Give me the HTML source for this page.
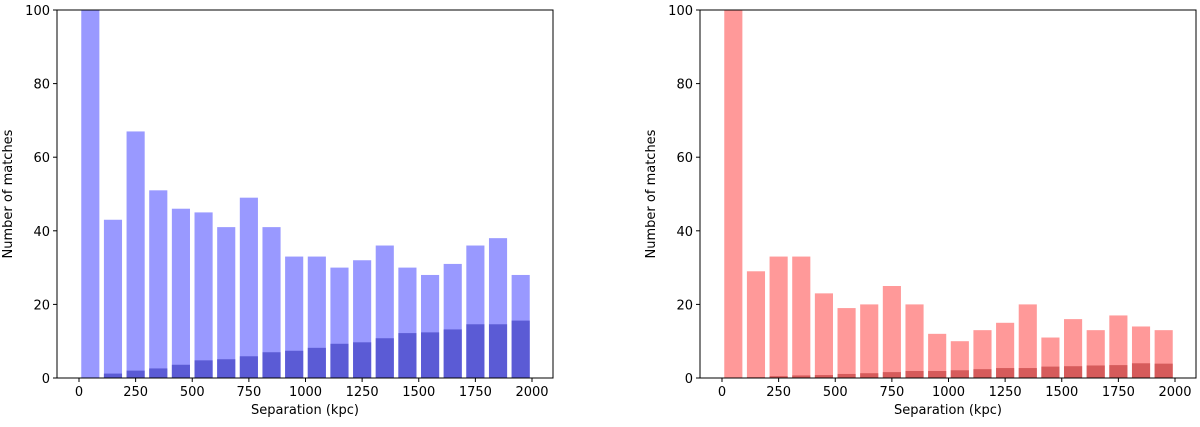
<!DOCTYPE html>
<html><head><meta charset="utf-8"><style>
body{margin:0;background:#fff;font-family:"DejaVu Sans","Liberation Sans",sans-serif}
</style></head><body>
<svg id="s" width="1200" height="423" xmlns="http://www.w3.org/2000/svg"></svg>
<script>
const centers=[50,150,250,350,450,550,650,750,850,950,1050,1150,1250,1350,1450,1550,1650,1750,1850,1950];
const leftTotal=[110,43,67,51,46,45,41,49,41,33,33,30,32,36,30,28,31,36,38,28];
const leftSub=[0,1.2,2,2.6,3.6,4.8,5.1,5.9,7,7.4,8.2,9.3,9.7,10.8,12.2,12.4,13.2,14.6,14.6,15.6];
const rightTotal=[110,29,33,33,23,19,20,25,20,12,10,13,15,20,11,16,13,17,14,13];
const rightSub=[0,0.2,0.5,0.7,0.8,1.1,1.3,1.6,1.9,1.9,2.1,2.4,2.7,2.7,3.1,3.2,3.4,3.5,4,3.9];
const xTicks=[0,250,500,750,1000,1250,1500,1750,2000];
const yTicks=[0,20,40,60,80,100];
const NS="http://www.w3.org/2000/svg";
const svg=document.getElementById('s');
function mk(tag,attrs,parent){const e=document.createElementNS(NS,tag);for(const k in attrs)e.setAttribute(k,attrs[k]);(parent||svg).appendChild(e);return e;}
function panel(off,tot,sub,light,dark,name){
  const g=mk('g',{});
  
  
  const X0=57+off,X1=553+off,Y0=10,Y1=378;
  const x=v=>79+off+v*(453/2000);
  const y=v=>Y1-(Math.min(v,100))*(Y1-Y0)/100;
  const cp=mk('clipPath',{id:'c'+off},g);mk('rect',{x:X0,y:Y0,width:X1-X0,height:Y1-Y0},cp);
  const bars=mk('g',{'clip-path':'url(#c'+off+')'},g);
  centers.forEach((c,i)=>{
    const r=mk('rect',{x:x(c-40),y:y(tot[i]),width:x(c+40)-x(c-40),height:y(0)-y(tot[i]),fill:light},bars);
    
    
    if(sub[i]>0){const d=mk('rect',{x:x(c-40),y:y(sub[i]),width:x(c+40)-x(c-40),height:y(0)-y(sub[i]),fill:dark},bars);
    
    }
  });
  mk('rect',{x:X0,y:Y0,width:X1-X0,height:Y1-Y0,fill:'none',stroke:'#000','stroke-width':1},g);
  xTicks.forEach(t=>{mk('line',{x1:x(t),x2:x(t),y1:Y1,y2:Y1+4,stroke:'#000'},g);
    const tx=mk('text',{x:x(t),y:Y1+18,'text-anchor':'middle','font-size':13},g);tx.textContent=t;
    });
  yTicks.forEach(t=>{mk('line',{x1:X0-4,x2:X0,y1:y(t),y2:y(t),stroke:'#000'},g);
    const tx=mk('text',{x:X0-7,y:y(t)+5,'text-anchor':'end','font-size':13},g);tx.textContent=t;
    });
  const xl=mk('text',{x:(X0+X1)/2,y:414,'text-anchor':'middle','font-size':13},g);xl.textContent='Separation (kpc)';
  
  const yl=mk('text',{x:0,y:0,'text-anchor':'middle','font-size':13,transform:`translate(${X0-45},${(Y0+Y1)/2}) rotate(-90)`},g);yl.textContent='Number of matches';
  
}
panel(0,leftTotal,leftSub,'#9999ff','#5b5bd5','left-histogram');
panel(643,rightTotal,rightSub,'#ff9999','#d65b5b','right-histogram');
</script>
</body></html>
